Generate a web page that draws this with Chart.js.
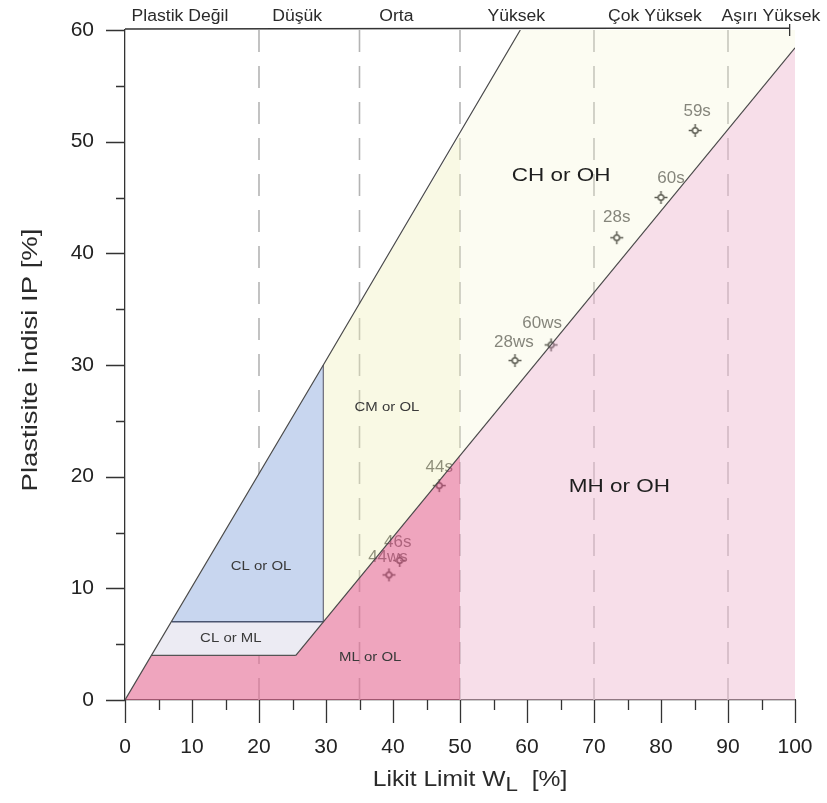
<!DOCTYPE html>
<html>
<head>
<meta charset="utf-8">
<script src="https://cdn.jsdelivr.net/npm/chart.js@4.4.1/dist/chart.umd.min.js"></script>
<style>
html,body{margin:0;padding:0;background:#ffffff;}
#wrap{width:827px;height:803px;position:relative;}
</style>
</head>
<body>
<div id="wrap"><canvas id="c"></canvas></div>
<script>
// ---------- DATA ----------
const xTickValues = [0, 10, 20, 30, 40, 50, 60, 70, 80, 90, 100];
const yTickValues = [0, 10, 20, 30, 40, 50, 60];
const plasticityBands = ['Plastik Değil', 'Düşük', 'Orta', 'Yüksek', 'Çok Yüksek', 'Aşırı Yüksek'];
const bandCenters = [8.2, 25.7, 40.5, 58.4, 79.1, 96.4];
const dividerX = [20, 35, 50, 70, 90];

const sampleNames = ['59s', '60s', '28s', '60ws', '28ws', '44s', '46s', '44ws'];
const sampleWL = [85.1, 80.0, 73.4, 63.6, 58.2, 46.9, 41.0, 39.4];
const sampleIP = [51.0, 45.0, 41.4, 31.8, 30.4, 19.2, 12.5, 11.2];

const outerLine = [[0, 0], [29.6, 30], [59, 60]];
const aLine = [[25.5, 4], [100, 58.4]];
const line4 = [[4, 4], [25.5, 4]];
const line7 = [[7, 7], [29.6, 7]];
const line30 = [[29.6, 7], [29.6, 30]];

const zoneMLOL = [[0, 0], [4, 4], [25.5, 4], [50, 21.9], [50, 0]];
const zoneMHOH = [[50, 0], [100, 0], [100, 58.4], [50, 21.9]];
const zoneCLML = [[4, 4], [25.5, 4], [29.6, 7], [7, 7]];
const zoneCLOL = [[7, 7], [29.6, 7], [29.6, 30]];
const zoneCMOL = [[29.6, 7], [50, 21.9], [50, 50.6], [29.6, 30]];
const zoneCHOH = [[50, 21.9], [100, 58.4], [100, 60], [59, 60], [50, 50.6]];

const zoneNames = ['CH or OH', 'MH or OH', 'CM or OL', 'CL or OL', 'CL or ML', 'ML or OL'];
const zoneLabelWL = [65.1, 73.8, 39.1, 20.3, 15.8, 36.6];
const zoneLabelIP = [46.9, 19.1, 26.2, 12.0, 5.55, 3.85];

// ---------- STYLE ----------
const FONT = "'Liberation Sans', Arial, sans-serif";
const zoneFontSize = [18, 18, 13, 13, 13, 13];
const sampleLabelOffsets = [[2, -19], [10, -19], [0, -20], [-9, -22], [-1, -18], [0, -18], [-2, -18], [-1, -18]];

const toPts = arr => arr.map(p => ({x: p[0], y: p[1]}));

function makeMarker() {
  const c = document.createElement('canvas');
  c.width = 15; c.height = 15;
  const g = c.getContext('2d');
  g.strokeStyle = '#1e1e1e';
  g.lineWidth = 1.5;
  g.beginPath();
  g.moveTo(1, 7.5); g.lineTo(14, 7.5);
  g.moveTo(7.5, 1); g.lineTo(7.5, 14);
  g.stroke();
  g.beginPath();
  g.arc(7.5, 7.5, 2.8, 0, Math.PI * 2);
  g.fillStyle = '#ffffff';
  g.fill();
  g.stroke();
  return c;
}
const marker = makeMarker();

function lineDS(points, color, width, dash) {
  return {
    type: 'line', data: toPts(points), borderColor: color, borderWidth: width,
    borderDash: dash || [], pointRadius: 0, fill: false, tension: 0
  };
}
function zoneDS(points, color) {
  return {
    type: 'line', data: toPts(points), borderWidth: 0, borderColor: 'rgba(0,0,0,0)',
    backgroundColor: color, pointRadius: 0, fill: 'shape', tension: 0
  };
}

const datasets = [
  lineDS(outerLine, '#4a4a4a', 1.2),
  lineDS(aLine, '#4a4a4a', 1.2),
  lineDS(line4, '#555555', 1.3),
  lineDS(line7, '#4a5570', 1.5),
  lineDS(line30, '#6a6a78', 1.2),
  zoneDS(zoneMLOL, 'rgba(229,110,150,0.62)'),
  zoneDS(zoneMHOH, 'rgba(239,190,212,0.5)'),
  zoneDS(zoneCLML, 'rgb(236,235,243)'),
  zoneDS(zoneCLOL, 'rgb(200,214,239)'),
  zoneDS(zoneCMOL, 'rgba(240,240,185,0.38)'),
  zoneDS(zoneCHOH, 'rgba(245,245,212,0.3)'),
  {
    type: 'line', label: 'samples',
    data: sampleWL.map((v, i) => ({x: v, y: sampleIP[i]})),
    showLine: false, pointStyle: marker, pointRadius: 7, borderColor: '#222', backgroundColor: '#fff'
  }
];
const SAMPLE_INDEX = datasets.length - 1;
dividerX.forEach(x => datasets.push(lineDS([[x, 60], [x, 0]], '#b4b4b4', 1.6, [22, 14])));

function stretchText(ctx, text, x, y, size, color, sx, rot) {
  ctx.save();
  ctx.translate(x, y);
  if (rot) ctx.rotate(rot);
  ctx.scale(sx, 1);
  ctx.font = size + 'px ' + FONT;
  ctx.fillStyle = color;
  ctx.textAlign = 'center';
  ctx.textBaseline = 'middle';
  ctx.fillText(text, 0, 0);
  ctx.restore();
}

const decorPlugin = {
  id: 'decor',
  afterDatasetDraw(chart, args) {
    if (args.index !== SAMPLE_INDEX) return;
    const ctx = chart.ctx;
    const meta = args.meta;
    ctx.save();
    ctx.font = '17px ' + FONT;
    ctx.fillStyle = '#555';
    ctx.textAlign = 'center';
    ctx.textBaseline = 'middle';
    meta.data.forEach((el, i) => {
      const o = sampleLabelOffsets[i];
      ctx.fillText(sampleNames[i], el.x + o[0], el.y + o[1]);
    });
    ctx.restore();
  },
  afterDraw(chart) {
    const ctx = chart.ctx;
    const xs = chart.scales.x, ys = chart.scales.y;
    const x0 = xs.getPixelForValue(0), y0 = ys.getPixelForValue(0);
    const yTop = ys.getPixelForValue(60);
    ctx.save();
    ctx.strokeStyle = '#333';
    ctx.lineWidth = 1.3;
    ctx.beginPath();
    for (let v = 0; v <= 100; v += 5) {
      const px = Math.round(xs.getPixelForValue(v)) + 0.5;
      const len = (v % 10 === 0) ? 23 : 10;
      ctx.moveTo(px, y0); ctx.lineTo(px, y0 + len);
    }
    for (let v = 0; v <= 60; v += 5) {
      const py = Math.round(ys.getPixelForValue(v)) + 0.5;
      const len = (v % 10 === 0) ? 19 : 9;
      ctx.moveTo(x0, py); ctx.lineTo(x0 - len, py);
    }
    // top frame line
    const xr = xs.getPixelForValue(99.2);
    ctx.moveTo(x0, yTop - 1); ctx.lineTo(xr, yTop - 2);
    ctx.moveTo(xr, yTop - 6); ctx.lineTo(xr, yTop + 6);
    ctx.stroke();
    ctx.restore();

    // band labels above the chart
    plasticityBands.forEach((t, i) => {
      stretchText(ctx, t, xs.getPixelForValue(bandCenters[i]), 17, 16, '#2a2a2a', 1.1);
    });
    // zone labels
    zoneNames.forEach((t, i) => {
      const big = zoneFontSize[i] > 15;
      stretchText(ctx, t, xs.getPixelForValue(zoneLabelWL[i]), ys.getPixelForValue(zoneLabelIP[i]),
        zoneFontSize[i], big ? '#1e1e1e' : '#3a3a3a', big ? 1.25 : 1.15);
    });
    // y title
    stretchText(ctx, 'Plastisite İndisi IP [%]', 31, 360, 22, '#2a2a2a', 1.25, -Math.PI / 2);
    // x title with subscript
    ctx.save();
    const sx = 1.12;
    const parts = [
      {t: 'Likit Limit W', s: 22, dy: 0},
      {t: 'L', s: 20, dy: 5},
      {t: '  [%]', s: 22, dy: 0}
    ];
    let total = 0;
    parts.forEach(p => { ctx.font = p.s + 'px ' + FONT; p.w = ctx.measureText(p.t).width * sx; total += p.w; });
    let cx = 470 - total / 2;
    ctx.fillStyle = '#2a2a2a';
    ctx.textBaseline = 'middle';
    ctx.textAlign = 'left';
    parts.forEach(p => {
      ctx.save();
      ctx.translate(cx, 780 + p.dy);
      ctx.scale(sx, 1);
      ctx.font = p.s + 'px ' + FONT;
      ctx.fillText(p.t, 0, 0);
      ctx.restore();
      cx += p.w;
    });
    ctx.restore();
  }
};

new Chart(document.getElementById('c'), {
  type: 'line',
  data: {datasets},
  options: {
    responsive: true,
    maintainAspectRatio: false,
    animation: false,
    layout: {padding: {top: 30, right: 32, left: 0, bottom: 0}},
    plugins: {legend: {display: false}, tooltip: {enabled: false}},
    scales: {
      x: {
        type: 'linear', min: 0, max: 100,
        afterBuildTicks: s => { s.ticks = xTickValues.map(v => ({value: v})); },
        afterFit: s => { s.height = 103; s.paddingLeft = 0; s.paddingRight = 0; },
        ticks: {color: '#222', font: {family: 'Liberation Sans', size: 21}, padding: 35, maxRotation: 0, autoSkip: false},
        grid: {display: false, drawTicks: false},
        border: {display: true, color: '#333', width: 1.3}
      },
      y: {
        type: 'linear', min: 0, max: 60,
        afterBuildTicks: s => { s.ticks = yTickValues.map(v => ({value: v})); },
        afterFit: s => { s.width = 125; s.paddingTop = 0; s.paddingBottom = 0; },
        ticks: {color: '#222', font: {family: 'Liberation Sans', size: 21}, padding: 31, autoSkip: false},
        grid: {display: false, drawTicks: false},
        border: {display: true, color: '#333', width: 1.3}
      }
    }
  },
  plugins: [decorPlugin]
});
</script>
</body>
</html>
